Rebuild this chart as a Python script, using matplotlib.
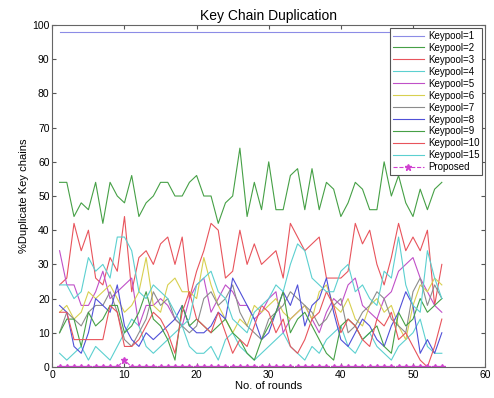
import matplotlib
matplotlib.use("Agg")
import matplotlib.pyplot as plt
import numpy as np

plt.rcParams['font.family'] = ['Liberation Sans', 'DejaVu Sans']

# rounds 1..54
rounds = np.arange(1, 55)

kp1 = [98] * 54
kp2 = [54, 54, 44, 48, 46, 54, 42, 54, 50, 48, 56, 44, 48, 50, 54, 54, 50, 50, 54, 56,
       50, 50, 42, 48, 50, 64, 44, 54, 46, 60, 46, 46, 56, 58, 46, 58, 46, 54, 52, 44,
       48, 54, 52, 46, 46, 60, 50, 56, 48, 44, 52, 46, 52, 54]
kp3 = [24, 26, 42, 34, 40, 26, 24, 32, 28, 44, 22, 32, 34, 30, 36, 38, 30, 38, 20, 28,
       34, 42, 40, 26, 28, 40, 30, 36, 30, 32, 34, 26, 42, 38, 34, 36, 38, 26, 26, 26,
       28, 42, 36, 40, 30, 24, 32, 42, 34, 38, 34, 40, 18, 30]
kp4 = [4, 2, 4, 6, 2, 6, 4, 2, 6, 10, 14, 12, 6, 4, 6, 8, 10, 12, 6, 4,
       4, 6, 2, 8, 10, 6, 4, 2, 4, 6, 8, 10, 6, 4, 2, 6, 4, 8, 10, 12,
       6, 4, 8, 10, 6, 4, 2, 6, 8, 10, 14, 6, 4, 4]
kp5 = [34, 24, 24, 18, 18, 22, 28, 20, 22, 24, 26, 12, 18, 18, 20, 18, 14, 12, 20, 24,
       26, 16, 20, 24, 22, 18, 18, 14, 16, 20, 22, 10, 14, 16, 18, 14, 10, 16, 20, 18,
       24, 26, 18, 16, 14, 20, 22, 28, 30, 32, 26, 22, 18, 16]
kp6 = [16, 18, 14, 16, 22, 20, 22, 24, 20, 16, 18, 22, 32, 18, 16, 24, 26, 22, 22, 20,
       32, 24, 18, 14, 10, 14, 12, 18, 16, 18, 20, 16, 14, 16, 18, 14, 22, 24, 18, 16,
       20, 14, 12, 18, 20, 16, 18, 12, 8, 18, 24, 22, 26, 24]
kp7 = [10, 16, 14, 12, 16, 18, 18, 22, 16, 8, 6, 10, 14, 22, 18, 20, 14, 12, 10, 12,
       20, 22, 18, 20, 24, 16, 12, 10, 8, 14, 16, 18, 22, 20, 18, 16, 12, 14, 18, 20,
       10, 12, 16, 18, 22, 20, 14, 12, 10, 22, 26, 18, 24, 20]
kp8 = [18, 16, 6, 4, 10, 20, 18, 16, 24, 12, 8, 6, 10, 8, 10, 12, 14, 18, 12, 10,
       10, 12, 16, 14, 26, 22, 18, 14, 8, 10, 16, 22, 18, 24, 12, 18, 20, 26, 16, 8,
       6, 10, 14, 12, 8, 6, 12, 16, 22, 18, 4, 8, 4, 10]
kp9 = [10, 14, 14, 6, 16, 12, 14, 18, 18, 10, 12, 16, 22, 14, 12, 8, 2, 18, 12, 14,
       12, 10, 12, 14, 10, 8, 4, 2, 8, 12, 16, 22, 10, 14, 16, 12, 8, 4, 2, 12,
       14, 12, 8, 10, 12, 6, 4, 16, 12, 14, 20, 16, 18, 20]
kp10 = [16, 16, 8, 8, 8, 8, 8, 18, 16, 6, 6, 8, 12, 16, 14, 10, 4, 16, 22, 14,
        12, 10, 16, 10, 4, 8, 6, 12, 18, 16, 10, 14, 6, 4, 8, 14, 16, 22, 18, 10,
        14, 12, 8, 6, 14, 12, 16, 8, 10, 6, 2, 0, 6, 14]
kp15 = [24, 24, 20, 22, 32, 28, 30, 26, 38, 38, 34, 22, 20, 24, 22, 20, 16, 12, 14, 24,
        26, 28, 22, 20, 14, 12, 10, 16, 18, 20, 24, 22, 30, 36, 34, 26, 24, 22, 22, 28,
        30, 22, 24, 20, 18, 28, 26, 38, 24, 18, 16, 34, 26, 20]
proposed = [0] * 54
proposed[9] = 2

series = [
    ('Keypool=1', kp1, '#8c8ce6'),
    ('Keypool=2', kp2, '#46a046'),
    ('Keypool=3', kp3, '#e8545c'),
    ('Keypool=4', kp4, '#5cd0d0'),
    ('Keypool=5', kp5, '#c050c8'),
    ('Keypool=6', kp6, '#d8d050'),
    ('Keypool=7', kp7, '#8c8c8c'),
    ('Keypool=8', kp8, '#5050d8'),
    ('Keypool=9', kp9, '#46a046'),
    ('Keypool=10', kp10, '#e8545c'),
    ('Keypool=15', kp15, '#5cd0d0'),
]

fig = plt.figure(figsize=(4.94, 3.98), dpi=100)
ax = fig.add_axes([0.106, 0.078, 0.876, 0.859])

for label, vals, col in series:
    ax.plot(rounds, vals, color=col, linewidth=0.8, label=label)
ax.plot(rounds, proposed, color='#d040d0', linestyle='--', linewidth=0.8,
        marker='*', markersize=5, label='Proposed')

ax.set_xlim(0, 60)
ax.set_ylim(0, 100)
ax.set_xticks(range(0, 61, 10))
ax.set_yticks(range(0, 101, 10))
ax.tick_params(direction='in', length=3, labelsize=7.5, top=True, right=True,
               color='#555555', pad=2)
for sp in ax.spines.values():
    sp.set_color('#666666')
    sp.set_linewidth(0.8)

ax.set_title('Key Chain Duplication', fontsize=10, pad=4)
ax.set_xlabel('No. of rounds', fontsize=8, labelpad=1)
ax.set_ylabel('%Duplicate Key chains', fontsize=8, labelpad=2)

leg = ax.legend(loc='upper right', fontsize=7, handlelength=3.2, labelspacing=0.2,
                borderaxespad=0.3, borderpad=0.3, handletextpad=0.4,
                fancybox=False, framealpha=1)
leg.get_frame().set_edgecolor('#555555')
leg.get_frame().set_linewidth(0.8)

fig.savefig('out.png', dpi=100)
